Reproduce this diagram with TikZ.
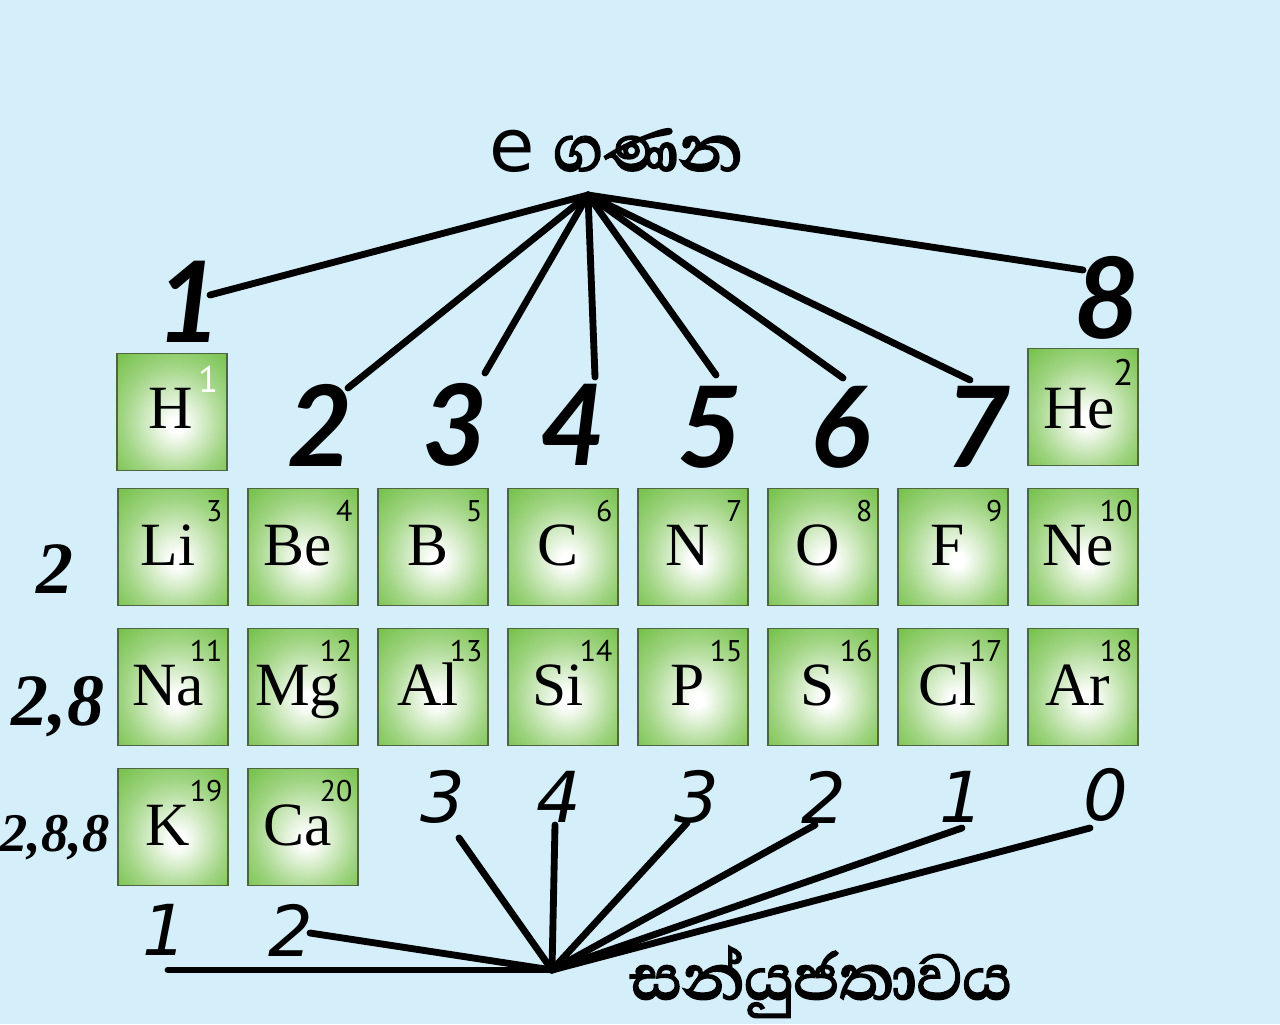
\documentclass[tikz,border=0pt]{standalone}
\usepackage{fontspec}
\setmainfont{Liberation Serif}
\newfontfamily\numfont{DejaVu Sans}
\newfontfamily\bignumfont{Lato}
\newfontfamily\supfont{PT Sans}
\newfontfamily\sinfont[Script=Sinhala, FakeBold=3]{Abhaya Libre}
\usetikzlibrary{calc}
\definecolor{bg}{RGB}{212,238,250}
\definecolor{tilegreen}{RGB}{108,189,62}
\definecolor{tileedge}{RGB}{80,100,65}
\pgfdeclareradialshading{tileshade}{\pgfpoint{2bp}{-6bp}}{color(0bp)=(white); color(3bp)=(white); color(24bp)=(tilegreen!65!white); color(40bp)=(tilegreen); color(60bp)=(tilegreen)}
\tikzset{
  tile/.style={draw=tileedge, line width=0.8pt, shading=tileshade, minimum width=2.2cm, minimum height=2.34cm, inner sep=0pt},
  sym/.style={anchor=base, inner sep=0pt, font=\fontsize{35}{35}\selectfont},
  anum/.style={anchor=north east, inner sep=0pt, font=\supfont\fontsize{17}{17}\selectfont},
  bignum/.style={inner sep=0pt, font=\bignumfont\bfseries\itshape\fontsize{64}{64}\selectfont},
  shellnum/.style={inner sep=0pt, font=\bfseries\itshape\fontsize{42}{42}\selectfont},
  valnum/.style={inner sep=0pt, font=\numfont\itshape\fontsize{40}{40}\selectfont},
  conn/.style={line width=3.9pt, line cap=round},
}
\begin{document}
\begin{tikzpicture}[x=0.02cm, y=-0.02cm]
\fill[bg] (0,0) rectangle (1280,1024);
\useasboundingbox (0,0) rectangle (1280,1024);

% tiles
\node[tile] (tH) at (172,412) {};
\node[sym] (sH) at ($(tH.center)+(-1,16)$) {H};
\node[anum, white, font=\supfont\fontsize{21}{21}\selectfont] (nH) at ($(tH.north east)+(-9,13)$) {1};
\node[tile] (tHe) at (1083,407) {};
\node[sym] (sHe) at ($(tHe.center)+(-4,21)$) {He};
\node[anum, font=\supfont\fontsize{21}{21}\selectfont] (nHe) at ($(tHe.north east)+(-5,11)$) {2};

\foreach \s/\n/\x/\y in {Li/3/173/547, Be/4/303/547, B/5/433/547, C/6/563/547, N/7/693/547, O/8/823/547, F/9/953/547, Ne/10/1083/547,
  Na/11/173/687, Mg/12/303/687, Al/13/433/687, Si/14/563/687, P/15/693/687, S/16/823/687, Cl/17/953/687, Ar/18/1083/687,
  K/19/173/827, Ca/20/303/827}{
  \node[tile] (t\n) at (\x,\y) {};
  \node[sym] (s\n) at ($(t\n.center)+(-5,18)$) {\s};
  \node[anum] (n\n) at ($(t\n.north east)+(-6,12)$) {\n};
}

% top title and hub
\node[inner sep=0pt, font=\numfont\fontsize{42}{42}\selectfont] (etitle) at (512,151) {e};
\node[inner sep=0pt, font=\sinfont\fontsize{47}{47}\selectfont] (gtitle) at (648,150) {ගණන};
\coordinate (tophub) at (588,195);

% big electron-count numbers
\node[bignum] (e1) at (189,302) {1};
\node[bignum] (e2) at (320,425) {2};
\node[bignum] (e3) at (455,425) {3};
\node[bignum] (e4) at (573,425) {4};
\node[bignum] (e5) at (710,427) {5};
\node[bignum] (e6) at (840,427) {6};
\node[bignum] (e7) at (978,427) {7};
\node[bignum] (e8) at (1107,298) {8};

\coordinate (c1) at (210,295);
\coordinate (c2) at (348,388);
\coordinate (c3) at (485,373);
\coordinate (c4) at (595,377);
\coordinate (c5) at (716,375);
\coordinate (c6) at (843,378);
\coordinate (c7) at (970,380);
\coordinate (c8) at (1083,270);
\foreach \i in {1,...,8}{\draw[conn] (tophub) -- (c\i);}

% shell labels
\node[shellnum] (sh1) at (55,569) {2};
\node[shellnum] (sh2) at (58,707) {2,8};
\node[shellnum, font=\bfseries\itshape\fontsize{31}{31}\selectfont] (sh3) at (55,838) {2,8,8};

% valency numbers
\node[valnum] (v1) at (165,930) {1};
\node[valnum] (v2) at (291,930) {2};
\node[valnum] (v3) at (443,797) {3};
\node[valnum] (v4) at (559,797) {4};
\node[valnum] (v5) at (697,797) {3};
\node[valnum] (v6) at (824,797) {2};
\node[valnum] (v7) at (962,797) {1};
\node[valnum] (v8) at (1106,795) {0};

\coordinate (bothub) at (552,970);
\coordinate (b1) at (168,970);
\coordinate (b2) at (310,933);
\coordinate (b3) at (459,838);
\coordinate (b4) at (555,825);
\coordinate (b5) at (687,823);
\coordinate (b6) at (815,825);
\coordinate (b7) at (962,828);
\coordinate (b8) at (1090,828);
\foreach \i in {1,...,8}{\draw[conn] (bothub) -- (b\i);}

\node[inner sep=0pt, font=\sinfont\fontsize{46}{46}\selectfont] (valtitle) at (821,982) {සන්යුජතාවය};
\end{tikzpicture}
\end{document}
